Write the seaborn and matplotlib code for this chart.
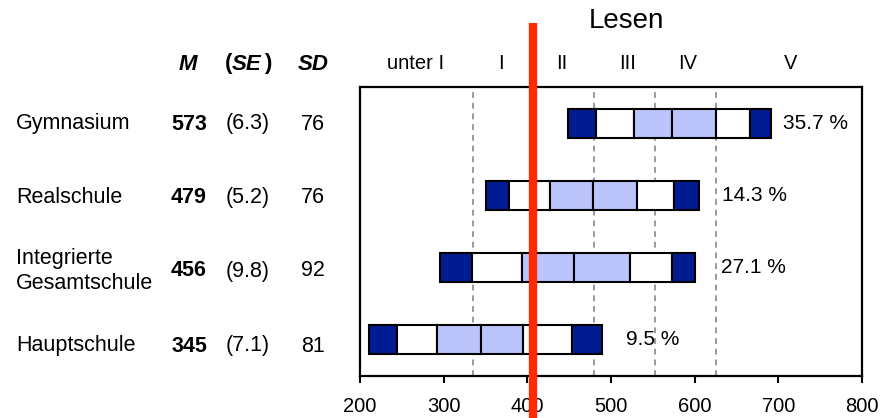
import matplotlib
matplotlib.use("Agg")
import matplotlib.pyplot as plt
import seaborn as sns
import numpy as np

# data
schools = ["Gymnasium", "Realschule", "Integrierte\nGesamtschule", "Hauptschule"]
means = [573, 479, 456, 345]
se = ["(6.3)", "(5.2)", "(9.8)", "(7.1)"]
sd = [76, 76, 92, 81]
# percentiles 5, 10, 25, mean, 75, 90, 95
p05 = [449, 350, 296, 211]
p10 = [482, 378, 334, 244]
p25 = [527, 427, 394, 292]
p50 = [573, 479, 456, 345]
p75 = [625, 531, 523, 395]
p90 = [666, 575, 573, 453]
p95 = [691, 605, 600, 489]
share_v = ["35.7 %", "14.3 %", "27.1 %", "9.5 %"]
share_x = [705, 633, 631, 518]

level_names = ["unter I", "I", "II", "III", "IV", "V"]
level_x = [266, 368, 441, 520, 592, 715]
cut_lines = [335, 480, 553, 626]
red_line = 407

dark = "#001C90"
light = "#BCC5FB"
white = "#FFFFFF"

sns.set_style("white")
plt.rcParams["font.family"] = ["Liberation Sans", "DejaVu Sans"]
plt.rcParams["text.color"] = "black"
plt.rcParams["xtick.color"] = "black"
plt.rcParams["xtick.labelcolor"] = "black"

fig = plt.figure(figsize=(8.83, 4.18), dpi=100)
ax = fig.add_axes([360 / 883, 42 / 418, 502 / 883, 289 / 418])

for x in cut_lines:
    ax.axvline(x, color="#9A9A9A", lw=1.4, ls=(0, (3, 2.5)), zorder=0)

bounds = [p05, p10, p25, p50, p75, p90, p95]
colors = [dark, white, light, light, white, dark]
for i, c in enumerate(colors):
    lo = np.array(bounds[i])
    hi = np.array(bounds[i + 1])
    sns.barplot(x=hi - lo, y=schools, left=lo, color=c, width=0.4,
                edgecolor="black", linewidth=1.5, errorbar=None,
                saturation=1, ax=ax, zorder=3)

for t, x, y in zip(share_v, share_x, range(4)):
    ax.text(x, y, t, ha="left", va="center", fontsize=15, zorder=4)

ax.set_xlim(200, 800)
ax.set_ylim(3.5, -0.5)
ax.set_xticks(range(200, 801, 100))
ax.set_yticks([])
ax.set_xlabel("")
ax.set_ylabel("")
ax.tick_params(axis="x", direction="out", length=5, width=1.5, pad=10,
               labelsize=14.5, bottom=True, color="black", labelcolor="black")
for s in ax.spines.values():
    s.set_visible(True)
    s.set_color("black")
    s.set_linewidth(1.6)

tr = ax.get_xaxis_transform()
ax.plot([red_line, red_line], [-0.145, 1.221], transform=tr, color="#FF2A00",
        lw=6, clip_on=False, zorder=10, solid_capstyle="butt")

for name, x in zip(level_names, level_x):
    ax.text(x, 1.08, name, transform=tr, ha="center", va="center", fontsize=14.5)
ax.text(518, 1.23, "Lesen", transform=tr, ha="center", va="center", fontsize=20)

# left table
def fy(p):
    return 1 - p / 418

def fx(p):
    return p / 883

hy = fy(64)
fig.text(fx(188), hy, "M", ha="center", va="center", fontsize=16,
         fontweight="bold", fontstyle="italic")
fig.text(fx(232), hy, "(", ha="right", va="center", fontsize=16, fontweight="bold")
fig.text(fx(247), hy, "SE", ha="center", va="center", fontsize=16,
         fontweight="bold", fontstyle="italic")
fig.text(fx(264), hy, ")", ha="left", va="center", fontsize=16, fontweight="bold")
fig.text(fx(313), hy, "SD", ha="center", va="center", fontsize=16,
         fontweight="bold", fontstyle="italic")

row_y = [124, 198, 271, 346]
for name, m, s, d, y in zip(schools, means, se, sd, row_y):
    fig.text(fx(16), fy(y), name, ha="left", va="center", fontsize=15.5,
             linespacing=1.2)
    fig.text(fx(189), fy(y), str(m), ha="center", va="center", fontsize=15.5,
             fontweight="bold")
    fig.text(fx(248), fy(y), s, ha="center", va="center", fontsize=15.5)
    fig.text(fx(313), fy(y), str(d), ha="center", va="center", fontsize=15.5)

fig.savefig("out.png", dpi=100)
